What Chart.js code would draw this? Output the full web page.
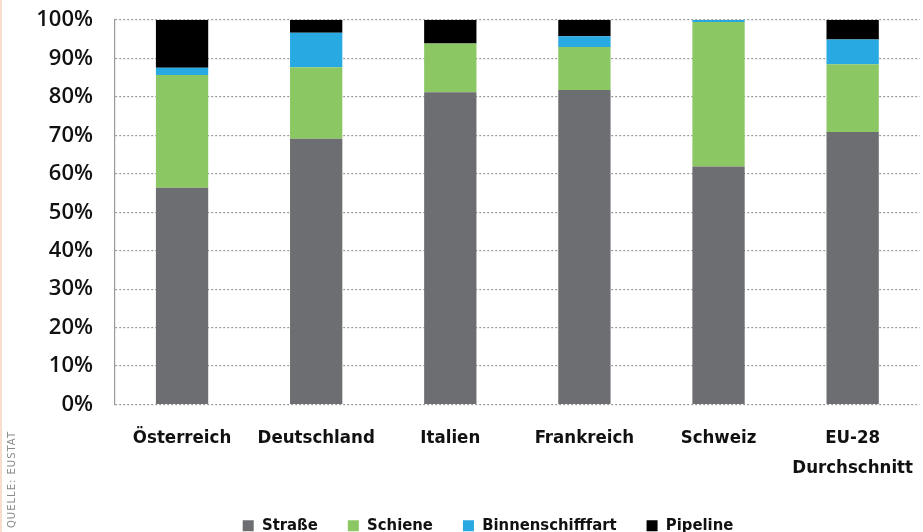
<!DOCTYPE html>
<html lang="de">
  <head>
    <meta charset="UTF-8" />
    <title>Modal Split Güterverkehr</title>
    <style>
      body {
        margin: 0;
        background: #fff;
        overflow: hidden;
      }
      #wrap {
        position: relative;
        width: 932px;
        height: 544px;
      }
      #edge {
        position: absolute;
        left: 0;
        top: 0;
        width: 2px;
        height: 532px;
        background: #f8dccd;
      }
      #source {
        position: absolute;
        left: 6px;
        top: 528px;
        transform: rotate(-90deg);
        transform-origin: 0 0;
        font-family: "DejaVu Sans", sans-serif;
        font-size: 10px;
        letter-spacing: 1px;
        color: #8a8a8a;
        white-space: nowrap;
      }
    </style>
    <script src="https://cdn.jsdelivr.net/npm/chart.js@4"></script>
  </head>
  <body>
    <div id="wrap">
      <canvas id="chart" width="932" height="544"></canvas>
      <div id="edge"></div>
      <div id="source">QUELLE: EUSTAT</div>
    </div>

    <script>
      // Anteile am Güterverkehr in Prozent
      const countries = [
        "Österreich",
        "Deutschland",
        "Italien",
        "Frankreich",
        "Schweiz",
        ["EU-28", "Durchschnitt"],
      ];
      const strasse = [56.4, 69.1, 81.2, 81.8, 61.9, 70.9];
      const schiene = [29.3, 18.6, 12.7, 11.2, 37.6, 17.6];
      const binnenschifffahrt = [1.9, 9.0, 0.0, 2.8, 0.5, 6.4];
      const pipeline = [12.4, 3.3, 6.1, 4.2, 0.0, 5.1];
      const yTicks = [0, 10, 20, 30, 40, 50, 60, 70, 80, 90, 100];

      const labelFont = "'DejaVu Sans', sans-serif";

      const ctx = document.getElementById("chart").getContext("2d");
      new Chart(ctx, {
        type: "bar",
        data: {
          labels: countries,
          datasets: [
            { label: "Straße", data: strasse, backgroundColor: "#6d6e71" },
            { label: "Schiene", data: schiene, backgroundColor: "#8bc763" },
            { label: "Binnenschifffart", data: binnenschifffahrt, backgroundColor: "#29a9e1" },
            { label: "Pipeline", data: pipeline, backgroundColor: "#000000" },
          ],
        },
        options: {
          responsive: false,
          animation: false,
          layout: { padding: 0 },
          datasets: {
            bar: { categoryPercentage: 1, barPercentage: 0.39, borderWidth: 0 },
          },
          scales: {
            x: {
              stacked: true,
              grid: { display: false, drawTicks: false },
              border: { display: false },
              ticks: {
                autoSkip: false,
                maxRotation: 0,
                minRotation: 0,
                padding: 19,
                color: "#111",
                font: { family: labelFont, size: 18.5, weight: "bold condensed", lineHeight: 1.6 },
              },
              afterFit: (scale) => {
                scale.height = 83;
              },
            },
            y: {
              stacked: true,
              min: 0,
              max: 100,
              afterBuildTicks: (scale) => {
                scale.ticks = yTicks.map((v) => ({ value: v }));
              },
              grid: {
                color: "#9a9a9a",
                lineWidth: 1.2,
                drawTicks: false,
              },
              border: { display: true, dash: [2, 2], color: "#9a9a9a", width: 1.2 },
              ticks: {
                padding: 22,
                color: "#111",
                font: { family: "'Open Sans', sans-serif", size: 22, weight: "600" },
                callback: (v) => v + "%",
              },
              afterFit: (scale) => {
                scale.width = 115;
                scale.paddingTop = 20;
                scale.paddingBottom = 0;
              },
            },
          },
          plugins: {
            legend: {
              position: "bottom",
              labels: {
                boxWidth: 11,
                boxHeight: 11,
                padding: 30,
                color: "#111",
                font: { family: labelFont, size: 16.5, weight: "bold condensed" },
              },
            },
            tooltip: { enabled: false },
          },
        },
        plugins: [
          {
            // gestrichelte Gitterlinien, Legende etwas nach rechts
            id: "tweaks",
            beforeDraw: (chart) => {
              chart.scales.y.options.grid.borderDash = [2, 2];
            },
            afterLayout: (chart) => {
              chart.legend.left += 22;
              chart.legend.right += 22;
            },
          },
        ],
      });
    </script>
  </body>
</html>
